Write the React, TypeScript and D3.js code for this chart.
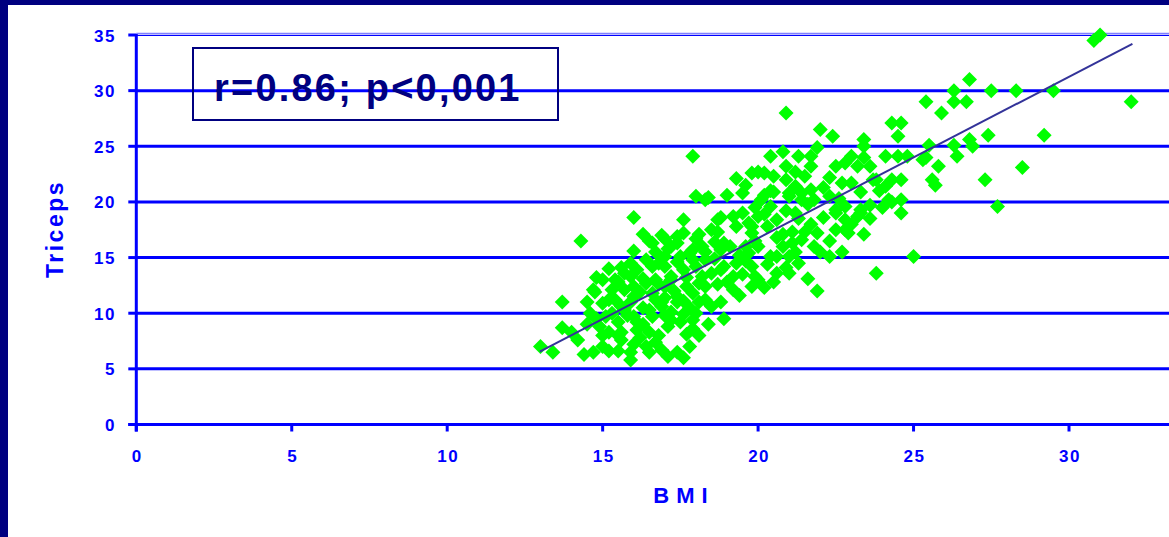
import React from "react";
import * as d3 from "d3";

const xTicks = [0, 5, 10, 15, 20, 25, 30];
const yTicks = [0, 5, 10, 15, 20, 25, 30, 35];
const annotation = "r=0.86; p<0,001";
const xTitle = "BMI";
const yTitle = "Triceps";
const regX = [12.98, 32.04];
const regSlope = 1.451;
const regIntercept = -12.28;

const bmi = [
  13.0, 13.4, 13.7, 14.3, 13.7, 14.0, 16.0, 17.9, 20.9, 18.0, 23.8, 25.0, 30.8, 31.0, 26.8, 27.5, 28.3, 29.5, 32.0, 26.7,
  26.8, 26.9, 27.4, 29.2, 28.5, 27.3, 27.7, 26.3, 25.4, 26.3, 25.9, 24.3, 24.6, 24.5, 22.0, 22.4, 23.4, 23.4, 25.5, 26.3,
  20.8, 20.4, 21.3, 21.9, 21.7, 23.0, 23.4, 24.1, 24.5, 24.8, 25.4, 25.8, 26.4, 19.8, 20.2, 20.9, 20.5, 20.9, 20.5, 21.5,
  21.7, 22.5, 22.8, 23.2, 23.6, 22.3, 22.7, 23.0, 23.3, 23.8, 24.3, 24.6, 24.1, 25.6, 25.7, 21.2, 21.4, 21.7, 21.0, 24.6,
  21.9, 21.6, 20.6, 21.0, 20.2, 20.0, 21.3, 21.2, 21.0, 22.0, 22.3, 22.7, 20.4, 20.6, 23.4, 22.9, 22.8, 23.2, 23.3, 23.6,
  22.5, 22.8, 24.3, 22.1, 21.7, 21.5, 21.9, 21.1, 20.8, 21.2, 20.4, 20.0, 20.3, 19.7, 19.8, 20.0, 19.7, 19.8, 19.9, 14.6,
  14.2, 14.4, 14.7, 15.2, 14.7, 15.0, 15.2, 15.6, 15.4, 15.9, 16.3, 16.6, 16.7, 17.4, 17.6, 18.1, 18.5, 18.8, 19.2, 19.3,
  18.7, 18.9, 18.3, 16.0, 16.4, 16.7, 17.0, 17.2, 17.6, 18.0, 18.3, 18.5, 18.9, 19.2, 19.2, 18.8, 18.9, 18.5, 18.1, 17.7,
  17.6, 17.2, 17.1, 17.4, 17.1, 16.7, 16.5, 15.9, 15.9, 15.6, 15.2, 15.0, 16.1, 16.0, 15.7, 15.5, 15.1, 14.9, 16.7, 16.9,
  16.5, 17.4, 17.9, 18.1, 18.3, 17.0, 15.4, 15.0, 15.7, 16.0, 15.3, 17.5, 18.7, 17.6, 17.2, 17.9, 18.2, 17.5, 17.0, 16.4,
  16.6, 16.1, 19.3, 18.4, 19.0, 19.5, 20.0, 21.0, 21.4, 21.8, 23.7, 24.2, 24.6, 25.3, 23.3, 22.5, 22.8, 22.5, 20.1, 20.8,
  21.4, 21.8, 17.4, 19.8, 19.6, 19.8, 16.4, 16.9, 15.6, 16.1, 15.6, 17.2, 18.1, 18.3, 18.8, 19.3, 18.8, 17.9, 17.2, 16.6,
  17.7, 16.8, 17.9, 17.4, 16.9, 14.75,
  15.3, 15.8, 14.8, 15.5, 16.2, 15.0, 14.5, 15.9, 16.3, 16.3,
  16.6, 17.0, 17.3, 16.8, 17.8, 17.0, 16.2, 17.6, 18.0, 18.4, 17.9, 16.8, 17.8, 17.6, 16.5, 16.0, 15.5,
  17.4, 17.8, 18.3, 18.6, 18.0, 17.1, 17.7, 18.2, 18.7, 19.0, 19.5, 19.4, 19.1, 18.6,
  19.5, 19.9, 20.6, 20.9, 20.4, 19.6, 20.2, 21.3, 20.6, 21.6, 22.3, 22.1, 21.2,
  14.8, 15.5, 15.2, 15.9, 14.5, 15.7, 16.3, 16.0, 16.5, 16.9, 17.0,
  22.3, 23.0, 23.6, 24.0, 22.6, 23.9,
  19.4, 20.3, 20.9, 20.5, 19.9, 21.1, 20.2, 19.6,
];

const triceps = [
  7.0, 6.5, 11.0, 16.5, 8.7, 8.3, 18.6, 24.1, 28.0, 20.5, 13.6, 15.1, 34.5, 35.0, 31.0, 30.0, 30.0, 30.0, 29.0, 29.0,
  25.6, 25.0, 26.0, 26.0, 23.1, 22.0, 19.6, 30.0, 29.0, 29.0, 28.0, 27.1, 27.1, 25.9, 26.5, 25.9, 25.6, 25.0, 25.1, 25.1,
  24.5, 24.1, 24.1, 24.9, 24.1, 24.1, 24.0, 24.1, 24.1, 24.1, 24.0, 23.2, 24.1, 22.6, 22.6, 23.2, 22.3, 22.0, 20.9, 22.3,
  23.2, 23.2, 23.5, 23.2, 23.2, 22.2, 21.7, 21.7, 20.9, 22.0, 22.0, 22.0, 21.4, 22.0, 21.5, 21.4, 20.8, 21.1, 20.8, 19.0,
  12.0, 13.1, 13.6, 13.6, 12.3, 13.0, 14.5, 15.5, 15.1, 15.5, 15.1, 15.5, 15.1, 15.1, 17.1, 17.2, 17.5, 18.7, 19.3, 19.7,
  19.0, 19.6, 20.0, 18.6, 18.0, 17.3, 17.2, 17.3, 17.1, 19.0, 19.6, 18.7, 17.8, 18.1, 17.2, 16.0, 15.4, 14.2, 13.3, 10.0,
  7.6, 6.3, 6.5, 6.6, 12.1, 13.0, 11.2, 14.1, 13.0, 13.3, 17.1, 16.3, 15.5, 16.3, 17.2, 17.1, 17.5, 18.6, 18.7, 17.8,
  17.3, 16.3, 20.2, 11.5, 12.7, 13.0, 14.2, 13.3, 13.9, 14.2, 14.8, 13.6, 14.2, 13.3, 12.1, 11.0, 9.5, 10.6, 8.0, 8.1,
  9.9, 10.1, 8.8, 6.5, 6.1, 7.4, 8.3, 6.5, 5.8, 7.6, 8.3, 7.0, 8.5, 9.7, 10.3, 9.2, 9.7, 8.8, 11.2, 10.6,
  10.3, 11.5, 11.8, 12.7, 11.2, 12.4, 11.2, 10.9, 12.1, 12.4, 12.1, 9.2, 18.4, 18.4, 16.0, 15.7, 16.0, 15.1, 15.1, 14.8,
  14.2, 13.9, 22.1, 20.4, 20.6, 20.8, 22.7, 20.5, 20.2, 20.2, 22.0, 20.2, 20.2, 23.8, 19.0, 19.3, 18.4, 17.5, 20.2, 16.0,
  16.6, 16.0, 16.9, 12.4, 16.0, 17.8, 7.0, 6.7, 10.6, 9.2, 8.3, 9.4, 11.0, 12.4, 13.9, 14.5, 15.7, 14.8, 13.0, 11.8,
  12.4, 14.5, 9.4, 11.0, 11.0, 11.9,
  10.0, 9.8, 9.5, 8.0, 7.8, 8.0, 9.0, 11.0, 10.5, 9.0,
  9.7, 9.8, 12.0, 12.6, 10.5, 11.4, 11.9, 11.1, 10.0, 9.0, 8.6, 8.0, 7.0, 6.0, 6.5, 7.2, 6.6,
  14.6, 15.4, 15.5, 16.4, 16.7, 15.8, 13.2, 13.3, 12.6, 12.8, 13.5, 15.2, 16.0, 14.9,
  19.0, 19.5, 18.4, 19.2, 21.0, 21.5, 20.6, 18.5, 16.8, 19.8, 20.5, 21.3, 22.7,
  13.2, 12.8, 14.0, 14.5, 11.0, 13.6, 13.1, 15.6, 16.5, 17.0, 16.7,
  16.5, 18.0, 18.5, 19.5, 20.3, 21.0,
  11.6, 14.4, 14.1, 12.8, 16.5, 16.3, 18.9, 14.7,
];

const W = 1169;
const H = 537;
const BLUE = "#0000FF";
const NAVY = "#000080";
const FONT = "'Liberation Sans', Arial, sans-serif";

export default function App() {
  const x = d3.scaleLinear().domain([0, 30]).range([136.3, 1069]);
  const y = d3.scaleLinear().domain([0, 35]).range([424.5, 35]);
  const points = bmi.map((b, i) => [b, triceps[i]] as [number, number]);
  const line = d3
    .line<number>()
    .x((v) => x(v))
    .y((v) => y(regIntercept + regSlope * v));
  const half = 7.5;
  const diamond = `M0,${-half}L${half},0L0,${half}L${-half},0Z`;

  return (
    <svg
      width={W}
      height={H}
      style={{ position: "absolute", left: 0, top: 0, background: "#fff" }}
      fontFamily={FONT}
    >
      <rect x={0} y={0} width={W} height={H} fill="#fff" />
      <rect x={0} y={0} width={W} height={5} fill={NAVY} />
      <rect x={0} y={0} width={8} height={H} fill={NAVY} />

      <line x1={x(0)} x2={W} y1={y(35) - 1.6} y2={y(35) - 1.6} stroke="#8080ff" strokeWidth={1.2} />
      <line x1={x(0)} x2={W} y1={y(35) + 0.4} y2={y(35) + 0.4} stroke={BLUE} strokeWidth={1.2} />

      {yTicks
        .filter((t) => t > 0 && t < 35)
        .map((t) => (
          <line key={"g" + t} x1={x(0)} x2={W} y1={y(t)} y2={y(t)} stroke={BLUE} strokeWidth={3} />
        ))}

      {yTicks.map((t) => (
        <g key={"yt" + t}>
          <line x1={x(0) - 8} x2={x(0)} y1={y(t)} y2={y(t)} stroke={BLUE} strokeWidth={3} />
          <text
            x={116}
            y={y(t) + 6.5}
            textAnchor="end"
            fill={BLUE}
            fontWeight="bold"
            fontSize={17}
            letterSpacing={1.5}
          >
            {t}
          </text>
        </g>
      ))}

      {xTicks.map((t) => (
        <g key={"xt" + t}>
          <line x1={x(t)} x2={x(t)} y1={y(0)} y2={y(0) + 7} stroke={BLUE} strokeWidth={3} />
          <text
            x={x(t) + 1}
            y={462}
            textAnchor="middle"
            fill={BLUE}
            fontWeight="bold"
            fontSize={17}
            letterSpacing={1.5}
          >
            {t}
          </text>
        </g>
      ))}

      <line x1={x(0)} x2={x(0)} y1={y(35) - 1} y2={y(0) + 7} stroke={BLUE} strokeWidth={3} />
      <line x1={x(0) - 8} x2={W} y1={y(0)} y2={y(0)} stroke={BLUE} strokeWidth={3} />

      {points.map(([b, t], i) => (
        <path key={"p" + i} d={diamond} transform={`translate(${x(b)},${y(t)})`} fill="#00FF00" />
      ))}

      <path d={line(regX) || ""} fill="none" stroke="#333399" strokeWidth={2} />

      <rect x={193} y={48} width={365} height={72} fill="none" stroke={NAVY} strokeWidth={2} />
      <text x={214} y={101} fill={NAVY} fontWeight="bold" fontSize={38} letterSpacing={2.2}>
        {annotation}
      </text>

      <text
        x={684}
        y={503}
        textAnchor="middle"
        fill={BLUE}
        fontWeight="bold"
        fontSize={22}
        letterSpacing={7}
      >
        {xTitle}
      </text>
      <text
        transform={`translate(63,229) rotate(-90)`}
        textAnchor="middle"
        fill={BLUE}
        fontWeight="bold"
        fontSize={23}
        letterSpacing={2.5}
      >
        {yTitle}
      </text>
    </svg>
  );
}
